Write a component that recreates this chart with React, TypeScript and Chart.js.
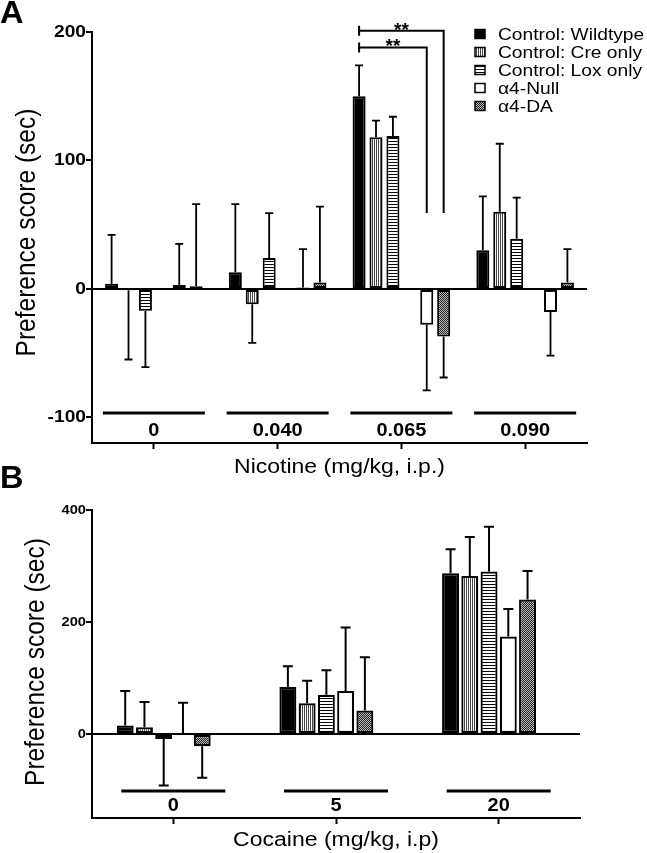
import React, { useEffect, useRef } from 'react';
import { Chart, registerables } from 'chart.js';

Chart.register(...registerables);

const FONT = '"Liberation Sans", Arial, Helvetica, sans-serif';

// ---------- series ----------
const seriesNames = ['Control: Wildtype', 'Control: Cre only', 'Control: Lox only', 'α4-Null', 'α4-DA'];
const seriesFills = ['solid', 'vstripe', 'hstripe', 'white', 'dots'];

// ---------- panel A : nicotine ----------
const nicotineDoses = ['0', '0.040', '0.065', '0.090'];
const nicWildtype = [4, 13, 150, 30];
const nicWildtypeSem = [38, 53, 24, 42];
const nicCreOnly = [-1, -12, 118, 60];
const nicCreOnlySem = [54, 30, 13, 53];
const nicLoxOnly = [-17, 24, 119, 39];
const nicLoxOnlySem = [44, 35, 15, 32];
const nicNull = [3, 1, -28, -18];
const nicNullSem = [32, 30, 51, 34];
const nicDA = [2, 5, -37, 5];
const nicDASem = [64, 59, 32, 26];
const nicYTicks = [-100, 0, 100, 200];
const nicYMin = -120;
const nicYMax = 200;
const nicXTitle = 'Nicotine (mg/kg, i.p.)';

// significance brackets (panel A, dose 0.065: Wildtype vs α4-Null / α4-DA)
const sigLabel = '**';
const sigDose = 2;
const sigTargets = [3, 4]; // series index of α4-Null, α4-DA
const sigLevels = [188, 201];
const sigLegEnd = 59;

// ---------- panel B : cocaine ----------
const cocaineDoses = ['0', '5', '20'];
const cocWildtype = [15, 84, 287];
const cocWildtypeSem = [62, 37, 43];
const cocCreOnly = [12, 55, 282];
const cocCreOnlySem = [45, 40, 70];
const cocLoxOnly = [-9, 70, 290];
const cocLoxOnlySem = [83, 44, 80];
const cocNull = [1, 77, 174];
const cocNullSem = [55, 113, 49];
const cocDA = [-22, 42, 240];
const cocDASem = [56, 95, 51];
const cocYTicks = [0, 200, 400];
const cocYMin = -150;
const cocYMax = 400;
const cocXTitle = 'Cocaine (mg/kg, i.p)';

const yTitle = 'Preference score (sec)';

type Spec = {
  letter: string;
  letterBase: number;
  canvasH: number;
  padTop: number;
  padRight: number;
  yWidth: number;
  xHeight: number;
  labels: string[];
  values: number[][];
  sems: number[][];
  order: number[]; // -1 = empty slot
  yMin: number;
  yMax: number;
  yTicks: number[];
  catPct: number;
  barPct: number;
  bw: number;
  capW: number;
  errLW: number;
  tickFont: number;
  ulOffset: number;
  ulHalf: number;
  lblOffset: number;
  xTitle: string;
  xTitleY: number;
  yTitleX: number;
  yTitleShift: number;
  legend: boolean;
  brackets: boolean;
};

const panelA: Spec = {
  letter: 'A', letterBase: 23, canvasH: 480, padTop: 32, padRight: 60, yWidth: 92, xHeight: 37,
  labels: nicotineDoses,
  values: [nicWildtype, nicCreOnly, nicLoxOnly, nicNull, nicDA],
  sems: [nicWildtypeSem, nicCreOnlySem, nicLoxOnlySem, nicNullSem, nicDASem],
  order: [0, 1, 2, -1, 3, 4],
  yMin: nicYMin, yMax: nicYMax, yTicks: nicYTicks,
  catPct: 0.82, barPct: 0.77, bw: 2, capW: 8, errLW: 1.8, tickFont: 17,
  ulOffset: 30, ulHalf: 51, lblOffset: 12, xTitle: nicXTitle, xTitleY: 467, yTitleX: 27, yTitleShift: -5,
  legend: true, brackets: true,
};

const panelB: Spec = {
  letter: 'B', letterBase: 33, canvasH: 398, padTop: 55, padRight: 67, yWidth: 92, xHeight: 35,
  labels: cocaineDoses,
  values: [cocWildtype, cocCreOnly, cocLoxOnly, cocNull, cocDA],
  sems: [cocWildtypeSem, cocCreOnlySem, cocLoxOnlySem, cocNullSem, cocDASem],
  order: [0, 1, 2, 3, 4, -1],
  yMin: cocYMin, yMax: cocYMax, yTicks: cocYTicks,
  catPct: 0.71, barPct: 0.88, bw: 2.2, capW: 10, errLW: 2, tickFont: 13,
  ulOffset: 27, ulHalf: 52, lblOffset: 12, xTitle: cocXTitle, xTitleY: 385, yTitleX: 36, yTitleShift: -2,
  legend: false, brackets: false,
};

function makeFills(ctx: CanvasRenderingContext2D): Record<string, any> {
  const tile = (w: number, h: number, draw: (c: CanvasRenderingContext2D) => void) => {
    const c = document.createElement('canvas');
    c.width = w;
    c.height = h;
    const cc = c.getContext('2d')!;
    draw(cc);
    return ctx.createPattern(c, 'repeat');
  };
  return {
    solid: '#000',
    white: '#fff',
    vstripe: tile(2, 1, (c) => {
      c.fillStyle = '#fff'; c.fillRect(0, 0, 2, 1);
      c.fillStyle = '#444'; c.fillRect(0, 0, 1, 1);
    }),
    hstripe: tile(1, 3, (c) => {
      c.fillStyle = '#fff'; c.fillRect(0, 0, 1, 3);
      c.fillStyle = '#000'; c.fillRect(0, 0, 1, 1);
    }),
    dots: tile(2, 2, (c) => {
      c.fillStyle = '#bbb'; c.fillRect(0, 0, 2, 2);
      c.fillStyle = '#222'; c.fillRect(0, 0, 1, 1); c.fillRect(1, 1, 1, 1);
    }),
  };
}

type TOpt = { size: number; bold?: boolean; align?: CanvasTextAlign; baseline?: CanvasTextBaseline; sx?: number; sy?: number; rot?: number };
function drawText(ctx: CanvasRenderingContext2D, s: string, x: number, y: number, o: TOpt) {
  ctx.save();
  ctx.translate(x, y);
  if (o.rot) ctx.rotate(o.rot);
  ctx.scale(o.sx ?? 1, o.sy ?? 1);
  ctx.font = `${o.bold ? 'bold ' : ''}${o.size}px ${FONT}`;
  ctx.textAlign = o.align ?? 'left';
  ctx.textBaseline = o.baseline ?? 'alphabetic';
  ctx.fillStyle = '#000';
  ctx.fillText(s, 0, 0);
  ctx.restore();
}

function createPanel(canvas: HTMLCanvasElement, p: Spec): Chart {
  const ctx = canvas.getContext('2d')!;
  const fills = makeFills(ctx);

  const datasets = p.order.map((k) => {
    if (k < 0) {
      return {
        label: '', data: p.labels.map(() => null), backgroundColor: 'rgba(0,0,0,0)', borderWidth: 0,
        categoryPercentage: p.catPct, barPercentage: p.barPct,
      };
    }
    return {
      label: seriesNames[k], data: p.values[k], backgroundColor: fills[seriesFills[k]], borderColor: '#000',
      borderWidth: p.bw, borderSkipped: false, categoryPercentage: p.catPct, barPercentage: p.barPct,
    };
  });

  const errorBars = {
    id: 'errorBars',
    afterDatasetsDraw(chart: any) {
      const c = chart.ctx;
      const ys = chart.scales.y;
      c.save();
      c.strokeStyle = '#000';
      c.lineWidth = p.errLW;
      p.order.forEach((k, di) => {
        if (k < 0) return;
        const meta = chart.getDatasetMeta(di);
        meta.data.forEach((bar: any, i: number) => {
          const v = p.values[k][i];
          const e = p.sems[k][i];
          const end = v >= 0 ? v + e : v - e;
          const y0 = ys.getPixelForValue(v);
          const y1 = ys.getPixelForValue(end);
          c.beginPath();
          c.moveTo(bar.x, y0);
          c.lineTo(bar.x, y1);
          c.moveTo(bar.x - p.capW / 2, y1);
          c.lineTo(bar.x + p.capW / 2, y1);
          c.stroke();
        });
      });
      c.restore();
    },
  };

  const decorations = {
    id: 'decorations',
    afterDraw(chart: any) {
      const c = chart.ctx;
      const xs = chart.scales.x;
      const ys = chart.scales.y;
      const area = chart.chartArea;
      // panel letter
      drawText(c, p.letter, 0, p.letterBase, { size: 31, bold: true, sx: 1.05 });
      // y tick labels
      p.yTicks.forEach((v) => {
        drawText(c, String(v), area.left - 6, ys.getPixelForValue(v), {
          size: p.tickFont, bold: true, align: 'right', baseline: 'middle', sx: 1.13,
        });
      });
      // category underlines + labels
      c.save();
      c.strokeStyle = '#000';
      c.lineWidth = 3;
      p.labels.forEach((lab, i) => {
        const cx = xs.getPixelForValue(i);
        const uy = area.bottom - p.ulOffset;
        c.beginPath();
        c.moveTo(cx - p.ulHalf, uy);
        c.lineTo(cx + p.ulHalf, uy);
        c.stroke();
        drawText(c, lab, cx, area.bottom - p.lblOffset, { size: 19, bold: true, align: 'center', baseline: 'middle', sx: 1.05 });
      });
      c.restore();
      // axis titles
      drawText(c, p.xTitle, (area.left + area.right) / 2, p.xTitleY, { size: 20, align: 'center', baseline: 'middle', sx: 1.15 });
      drawText(c, yTitle, p.yTitleX, (area.top + area.bottom) / 2 + p.yTitleShift, {
        size: 24.5, align: 'center', baseline: 'middle', rot: -Math.PI / 2, sy: 1.15,
      });

      if (p.legend) {
        const lx = 475;
        const ly0 = 34;
        const step = 18;
        p.order.filter((k) => k >= 0).forEach((k, r) => {
          const cy = ly0 + r * step;
          c.save();
          c.fillStyle = fills[seriesFills[k]];
          c.fillRect(lx, cy - 4.5, 10, 9);
          c.strokeStyle = '#000';
          c.lineWidth = 1.5;
          c.strokeRect(lx, cy - 4.5, 10, 9);
          c.restore();
          drawText(c, seriesNames[k], 498, cy + 5.5, { size: 16, sx: 1.2 });
        });
      }

      if (p.brackets) {
        const wtMeta = chart.getDatasetMeta(p.order.indexOf(0));
        const x1 = wtMeta.data[sigDose].x;
        c.save();
        c.strokeStyle = '#000';
        c.lineWidth = 2;
        sigTargets.forEach((k, j) => {
          const meta = chart.getDatasetMeta(p.order.indexOf(k));
          const x2 = meta.data[sigDose].x;
          const y = ys.getPixelForValue(sigLevels[j]);
          const yEnd = ys.getPixelForValue(sigLegEnd);
          c.beginPath();
          c.moveTo(x1, y - 5);
          c.lineTo(x1, y + 5);
          c.moveTo(x1, y);
          c.lineTo(x2, y);
          c.lineTo(x2, yEnd);
          c.stroke();
          drawText(c, sigLabel, (x1 + x2) / 2, y + 5, { size: 19, bold: true, align: 'center' });
        });
        c.restore();
      }
    },
  };

  return new Chart(canvas, {
    type: 'bar',
    data: { labels: p.labels, datasets: datasets as any },
    options: {
      animation: false,
      responsive: false,
      devicePixelRatio: 1,
      layout: { padding: { top: p.padTop, right: p.padRight, left: 0, bottom: 0 } },
      plugins: { legend: { display: false }, tooltip: { enabled: false } },
      scales: {
        x: {
          type: 'category',
          offset: true,
          grid: { offset: false, drawOnChartArea: false, drawTicks: true, tickLength: 6, tickColor: '#000', tickWidth: 2, color: '#000' },
          border: { display: true, color: '#000', width: 2 },
          ticks: { display: false },
          afterFit: (s: any) => { s.height = p.xHeight; },
        },
        y: {
          type: 'linear',
          min: p.yMin,
          max: p.yMax,
          afterBuildTicks: (s: any) => { s.ticks = p.yTicks.map((v) => ({ value: v })); },
          grid: {
            drawOnChartArea: true,
            color: (c: any) => (c.tick && c.tick.value === 0 ? '#000' : 'rgba(0,0,0,0)'),
            lineWidth: 2,
            drawTicks: true,
            tickLength: 6,
            tickColor: '#000',
            tickWidth: 2,
          },
          border: { display: true, color: '#000', width: 2 },
          ticks: { display: false },
          afterFit: (s: any) => { s.width = p.yWidth; },
        },
      },
    } as any,
    plugins: [errorBars, decorations],
  });
}

export default function App() {
  const aRef = useRef<HTMLCanvasElement>(null);
  const bRef = useRef<HTMLCanvasElement>(null);
  useEffect(() => {
    const a = createPanel(aRef.current!, panelA);
    const b = createPanel(bRef.current!, panelB);
    return () => {
      a.destroy();
      b.destroy();
    };
  }, []);
  return (
    <div style={{ position: 'absolute', left: 0, top: 0, width: 647, height: 853, background: '#fff', overflow: 'hidden' }}>
      <canvas ref={aRef} width={647} height={480} style={{ position: 'absolute', left: 0, top: 0 }} />
      <canvas ref={bRef} width={647} height={398} style={{ position: 'absolute', left: 0, top: 455 }} />
    </div>
  );
}
